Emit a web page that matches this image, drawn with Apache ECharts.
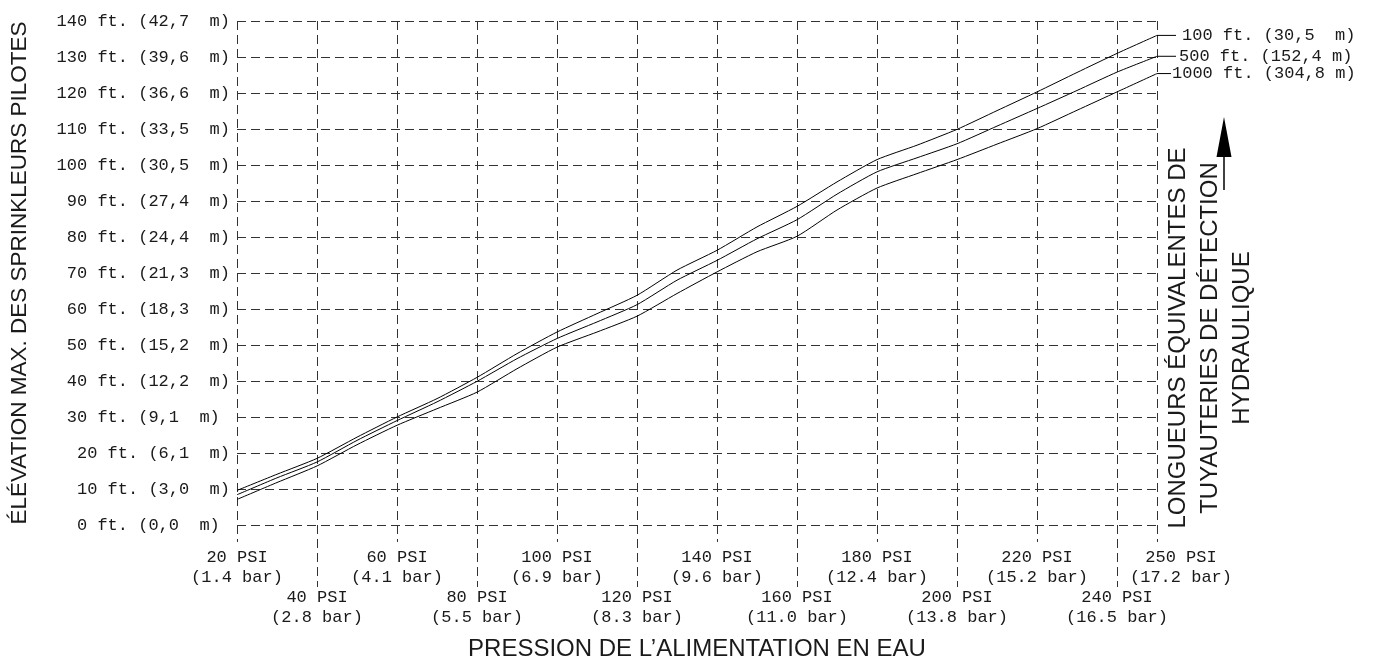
<!DOCTYPE html>
<html><head><meta charset="utf-8">
<script src="https://cdn.jsdelivr.net/npm/echarts@6/dist/echarts.min.js"></script>
<style>html,body{margin:0;padding:0;background:#fff}#c{width:1378px;height:660px}</style>
</head><body><div id="c"></div>
<script>
// ---- data ----
const psi      = [20, 30, 40, 50, 60, 70, 80, 90, 100, 110, 120, 130, 140, 150, 160, 170, 180, 190, 200, 210, 220, 230, 240, 250];
const len100   = [9.6, 14.1, 18.5, 24.4, 30.0, 35.1, 41.0, 47.6, 53.6, 58.7, 63.8, 70.8, 76.3, 82.8, 88.5, 95.3, 101.5, 105.5, 109.9, 115.1, 120.3, 125.7, 131.0, 136.0];
const len500   = [8.4, 13.1, 17.5, 23.5, 29.0, 34.2, 39.9, 46.2, 51.8, 56.4, 61.2, 68.0, 73.5, 79.5, 84.8, 91.9, 98.1, 102.0, 105.9, 110.8, 115.7, 120.7, 125.8, 130.2];
const len1000  = [7.1, 11.8, 16.4, 22.3, 27.7, 32.3, 36.9, 43.4, 49.4, 53.6, 58.0, 64.3, 70.3, 75.9, 80.2, 87.5, 93.6, 97.6, 101.5, 105.8, 110.1, 115.2, 120.3, 125.4];
const curveNames = ['100 ft. (30,5  m)', '500 ft. (152,4 m)', '1000 ft. (304,8 m)'];

const yTicks = [0, 10, 20, 30, 40, 50, 60, 70, 80, 90, 100, 110, 120, 130, 140];
const yTickLabels = ['0 ft. (0,0  m) ', '10 ft. (3,0  m)', '20 ft. (6,1  m)', '30 ft. (9,1  m) ', '40 ft. (12,2  m)',
  '50 ft. (15,2  m)', '60 ft. (18,3  m)', '70 ft. (21,3  m)', '80 ft. (24,4  m)', '90 ft. (27,4  m)',
  '100 ft. (30,5  m)', '110 ft. (33,5  m)', '120 ft. (36,6  m)', '130 ft. (39,6  m)', '140 ft. (42,7  m)'];

const xTicks = [20, 40, 60, 80, 100, 120, 140, 160, 180, 200, 220, 240, 250];
const xPsiLabels = ['20 PSI', '40 PSI', '60 PSI', '80 PSI', '100 PSI', '120 PSI', '140 PSI', '160 PSI', '180 PSI', '200 PSI', '220 PSI', '240 PSI', '250 PSI'];
const xBarLabels = ['(1.4 bar)', '(2.8 bar)', '(4.1 bar)', '(5.5 bar)', '(6.9 bar)', '(8.3 bar)', '(9.6 bar)', '(11.0 bar)', '(12.4 bar)', '(13.8 bar)', '(15.2 bar)', '(16.5 bar)', '(17.2 bar)'];
const upperRowTicks = [20, 60, 100, 140, 180, 220];
const lowerRowTicks = [40, 80, 120, 160, 200, 240];
const endTick = [250];

const xTitle = 'PRESSION DE L\u2019ALIMENTATION EN EAU';
const yTitle = 'ÉLÉVATION MAX. DES SPRINKLEURS PILOTES';
const rightTitle = ['LONGUEURS ÉQUIVALENTES DE', 'TUYAUTERIES DE DÉTECTION', 'HYDRAULIQUE'];

// ---- styles ----
const MONO = "'Liberation Mono', 'DejaVu Sans Mono', monospace";
const SANS = "'Liberation Sans', Arial, sans-serif";
const INK = '#1a1a1a';
const GRID = '#333';
const DASH = [9, 5];
const leaderWidths = [19, 19, 14];
const leaderGaps = [6, 3, 1];

const chart = echarts.init(document.getElementById('c'), null, {renderer: 'canvas'});

function xFormatter(v) {
  const i = xTicks.indexOf(v);
  if (i < 0) return '';
  return '{p|' + xPsiLabels[i] + '}\n{p|' + xBarLabels[i] + '}';
}
function xEndFormatter(v) {
  const i = xTicks.indexOf(v);
  if (i < 0) return '';
  return '{q|' + xPsiLabels[i] + '}\n{q|' + xBarLabels[i] + '}';
}
const labelRich = {
  p: {fontFamily: MONO, fontSize: 17, color: INK, lineHeight: 20},
  q: {fontFamily: MONO, fontSize: 17, color: INK, lineHeight: 20, padding: [0, 0, 0, 48]}
};

const seriesData = [len100, len500, len1000];
const series = seriesData.map((arr, k) => ({
  type: 'line',
  name: curveNames[k],
  data: psi.map((x, i) => [x, arr[i]]),
  showSymbol: false,
  symbol: 'none',
  smooth: 0.2,
  lineStyle: {color: '#000', width: 1},
  z: 5,
  endLabel: {
    show: true,
    distance: 0,
    formatter: () => '{l|}{t|' + curveNames[k] + '}',
    rich: {
      l: {width: leaderWidths[k], height: 1, backgroundColor: '#000', verticalAlign: 'middle'},
      t: {fontFamily: MONO, fontSize: 17, color: INK, padding: [0, 0, 0, leaderGaps[k]], verticalAlign: 'middle'}
    }
  }
}));

const baseX = {type: 'value', min: 20, max: 250, position: 'bottom', offset: 0, axisLine: {show: false}};

const option = {
  backgroundColor: '#fff',
  animation: false,
  grid: {left: 237, right: 221, top: 21, bottom: 135, outerBoundsMode: 'none', containLabel: false},
  xAxis: [Object.assign({}, baseX, {
    interval: 20,
    axisTick: {show: true, length: 17, lineStyle: {color: GRID, type: DASH, width: 1}},
    splitLine: {show: true, lineStyle: {color: GRID, type: DASH, width: 1}},
    axisLabel: {margin: 22, customValues: upperRowTicks, formatter: xFormatter, showMinLabel: true, showMaxLabel: true, hideOverlap: false, rich: labelRich}
  }), Object.assign({}, baseX, {
    splitLine: {show: false},
    axisTick: {show: true, length: 62, customValues: lowerRowTicks, lineStyle: {color: GRID, type: DASH, width: 1}},
    axisLabel: {margin: 62, customValues: lowerRowTicks, formatter: xFormatter, showMinLabel: true, showMaxLabel: true, hideOverlap: false, rich: labelRich},
    name: xTitle, nameLocation: 'middle', nameGap: 112,
    nameTextStyle: {fontFamily: SANS, fontSize: 24, color: INK}
  }), Object.assign({}, baseX, {
    splitLine: {show: false},
    axisTick: {show: false},
    axisLabel: {margin: 22, customValues: endTick, formatter: xEndFormatter, showMinLabel: true, showMaxLabel: true, hideOverlap: false, rich: labelRich}
  })],
  yAxis: {
    type: 'value', min: 0, max: 140, interval: 10,
    axisLine: {show: false}, axisTick: {show: false},
    splitLine: {show: true, lineStyle: {color: GRID, type: DASH, width: 1}},
    axisLabel: {
      margin: 7, fontFamily: MONO, fontSize: 17, color: INK,
      formatter: v => { const i = yTicks.indexOf(v); return i >= 0 ? yTickLabels[i] : ''; }
    },
    name: yTitle, nameLocation: 'middle', nameRotate: 90, nameGap: 206,
    nameTextStyle: {fontFamily: SANS, fontSize: 22.5, color: INK}
  },
  graphic: [{
    type: 'text', x: 1210, y: 338, rotation: Math.PI / 2,
    style: {text: rightTitle.join('\n'), fontFamily: SANS, fontSize: 24, fill: INK, align: 'center', verticalAlign: 'middle', lineHeight: 32}
  }, {
    type: 'line', shape: {x1: 1224, y1: 190, x2: 1224, y2: 150}, style: {stroke: '#000', lineWidth: 1.5}
  }, {
    type: 'polygon', shape: {points: [[1224, 117], [1216.5, 157], [1231.5, 157]]}, style: {fill: '#000'}
  }],
  series: series
};
chart.setOption(option);
</script></body></html>
